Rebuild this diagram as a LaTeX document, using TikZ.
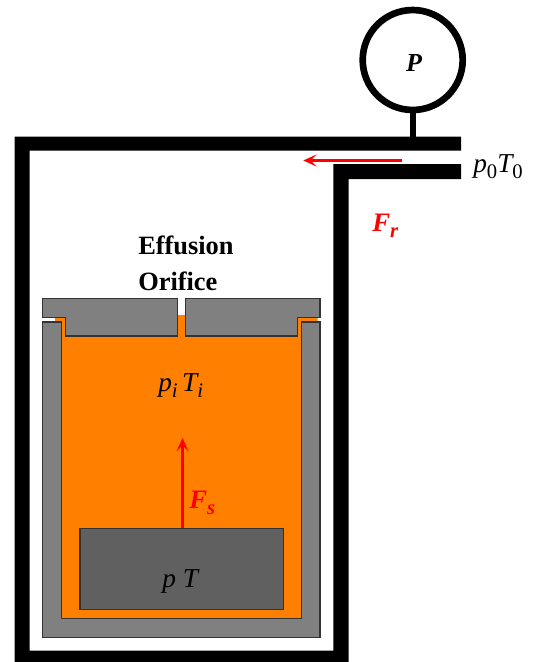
\documentclass[tikz,border=0pt]{standalone}
\usepackage{fontspec}
\setmainfont{Liberation Serif}
\usetikzlibrary{arrows.meta}
\definecolor{fillorange}{RGB}{255,128,0}
\definecolor{partgray}{RGB}{128,128,128}
\definecolor{blockgray}{RGB}{96,96,96}
\newcommand{\lowidx}[1]{\raisebox{-0.24em}{\fontsize{15.5}{15.5}\selectfont #1}}
\tikzset{
  x=0.75pt,y=-0.75pt,
  wall/.style={fill=black},
  part/.style={fill=partgray,draw=black!80,line width=0.8pt},
  liquid/.style={fill=fillorange},
  block/.style={fill=blockgray,draw=black!80,line width=0.8pt},
  force/.style={draw=red,line width=2pt,-{Stealth[length=10pt,width=9pt,inset=4.5pt]}},
  gauge/.style={circle,draw=black,line width=5pt,minimum size=75pt,inner sep=0pt},
  stem/.style={draw=black,line width=4.5pt},
  lab/.style={anchor=base west,inner sep=0pt,font=\fontsize{20.5}{20.5}\selectfont\itshape},
  gaugelab/.style={anchor=base,inner sep=0pt,font=\fontsize{19.5}{19.5}\selectfont\bfseries\itshape},
  boldlab/.style={anchor=base west,inner sep=0pt,font=\fontsize{19.8}{19.8}\selectfont\bfseries},
  forcelab/.style={anchor=base west,inner sep=0pt,text=red,font=\fontsize{20}{20}\selectfont\bfseries\itshape}
}
\begin{document}
\begin{tikzpicture}
\clip (0,0) rectangle (533,662);
\path[fill=white] (0,0) rectangle (533,662);
% chamber wall
\path[wall] (14.5,136.7) -- (461,136.7) -- (461,150.7) -- (29.7,150.7) -- (29.7,650.7)
  -- (333.3,650.7) -- (333.3,164) -- (461,164) -- (461,179) -- (348.5,179)
  -- (348.5,670) -- (14.5,670) -- cycle;
% liquid
\path[liquid] (177,315) -- (186,315) -- (186,317.3) -- (317.7,317.3) -- (317.7,322) -- (301.7,322)
  -- (301.7,618.3) -- (61.3,618.3) -- (61.3,322) -- (55,322) -- (55,317.3) -- (177,317.3) -- cycle;
% crucible
\path[part] (42.7,322) -- (61.3,322) -- (61.3,618.3) -- (301.7,618.3) -- (301.7,322)
  -- (320,322) -- (320,637.3) -- (42.7,637.3) -- cycle;
% lid
\path[part] (42.7,298.7) -- (177.3,298.7) -- (177.3,336) -- (65.7,336) -- (65.7,317.3) -- (42.7,317.3) -- cycle;
\path[part] (185.7,298.7) -- (320,298.7) -- (320,317.3) -- (297.7,317.3) -- (297.7,336) -- (185.7,336) -- cycle;
% sample
\path[block] (80,528.3) rectangle (283.3,609.3);
% gauge
\node[gauge] (gauge) at (412.7,60) {};
\node[gaugelab] (gaugetext) at (414,71) {P};
\coordinate (tap) at (412.7,138);
\draw[stem] (gauge.south) -- (tap);
% forces
\coordinate (flowstart) at (402.3,160.5);
\coordinate (flowend) at (303.3,160.5);
\draw[force] (flowstart) -- (flowend);
\coordinate (sampletop) at (182.5,528.3);
\coordinate (forcetip) at (182.5,438);
\draw[force] (sampletop) -- (forcetip);
% labels
\node[boldlab] (eff) at (138,254) {Effusion};
\node[boldlab] (ori) at (138,290) {Orifice};
\node[lab] (outer) at (473,172) {p\lowidx{\upshape 0}T\lowidx{\upshape 0}};
\node[forcelab] (fr) at (372,231) {F\lowidx{r}};
\node[forcelab] (fs) at (189,508) {F\lowidx{s}};
\node[lab] (inner) at (158,391) {p\lowidx{i}\,T\lowidx{i}};
\node[lab] (samp) at (162,587) {p T};
\end{tikzpicture}
\end{document}
